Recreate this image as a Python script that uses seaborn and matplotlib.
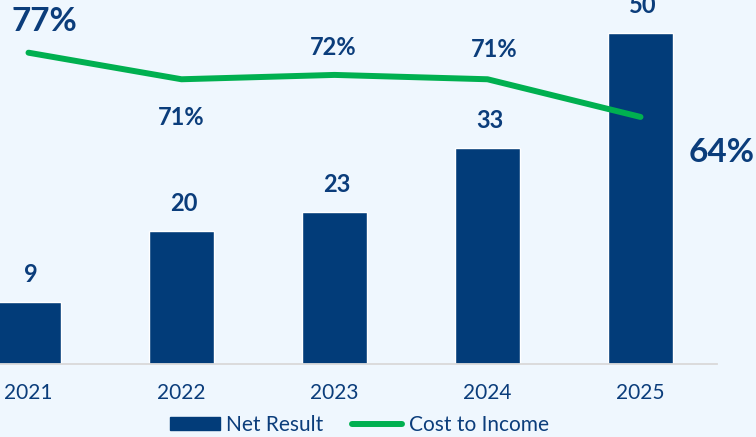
import matplotlib
matplotlib.use("Agg")
import matplotlib.pyplot as plt
import seaborn as sns
import numpy as np
from matplotlib.patches import Patch
from matplotlib.lines import Line2D

# ---- data ----
years = ["2021", "2022", "2023", "2024", "2025"]
net_result = [9.4, 20.1, 23.0, 32.6, 50.0]
cost_to_income = [76.9, 71.4, 72.3, 71.4, 63.6]

# ---- style ----
BG = "#EFF7FE"
NAVY = "#023C79"
TEXT = "#0B3D7B"
GREEN = "#00B050"
AXIS = "#D9D9D9"

sns.set_theme(style="white")
plt.rcParams["font.family"] = ["Lato", "DejaVu Sans"]

W, H = 756, 437
fig = plt.figure(figsize=(W / 100, H / 100), dpi=100)
fig.patch.set_facecolor(BG)

base_y = 364
ax = fig.add_axes([-48 / W, 1 - base_y / H, 765 / W, base_y / H])
ax.set_facecolor(BG)

sns.barplot(x=years, y=net_result, color=NAVY, width=0.425, saturation=1, ax=ax)
ax.set_xlim(-0.5, 4.5)
ax.set_ylim(0, base_y / 6.63)
for s in ["top", "left", "right"]:
    ax.spines[s].set_visible(False)
ax.spines["bottom"].set_color(AXIS)
ax.spines["bottom"].set_linewidth(1.3)
ax.set_yticks([])
ax.set_xlabel("")
ax.set_ylabel("")
ax.tick_params(axis="x", length=0, pad=14, labelsize=15, labelcolor=TEXT)

for i, v in enumerate(net_result):
    ax.annotate(f"{v:.0f}", (i, v), xytext=(2, 27), textcoords="offset pixels",
                ha="center", va="center", fontsize=17, fontweight="bold",
                color=TEXT, annotation_clip=False)

ax2 = ax.twinx()
sns.lineplot(x=np.arange(len(years)), y=cost_to_income, color=GREEN,
             linewidth=4.3, ax=ax2, legend=False)
for ln in ax2.get_lines():
    ln.set_solid_capstyle("round")
    ln.set_solid_joinstyle("round")
ax2.set_ylim(12.45, 87.81)
ax2.set_xlim(-0.5, 4.5)
ax2.set_yticks([])
ax2.set_ylabel("")
for s in ax2.spines.values():
    s.set_visible(False)

pct_offsets = [(16, 31), (0, -38), (-1, 27), (7, 30), (81, -36)]
pct_sizes = [24, 17, 17, 17, 24]
for i, v in enumerate(cost_to_income):
    ax2.annotate(f"{v:.0f}%", (i, v), xytext=pct_offsets[i], textcoords="offset pixels",
                 ha="center", va="center", fontsize=pct_sizes[i], fontweight="bold",
                 color=TEXT, annotation_clip=False)

handles = [Patch(facecolor=NAVY, edgecolor=NAVY, label="Net Result"),
           Line2D([], [], color=GREEN, lw=4.3, solid_capstyle="round", label="Cost to Income")]
fig.legend(handles=handles, loc="center", bbox_to_anchor=(0.475, 0.027), ncol=2,
           frameon=False, fontsize=15, labelcolor=TEXT, handlelength=2.4,
           handletextpad=0.3, columnspacing=1.4, handleheight=0.6)

fig.savefig("out.png", dpi=100, facecolor=BG)
